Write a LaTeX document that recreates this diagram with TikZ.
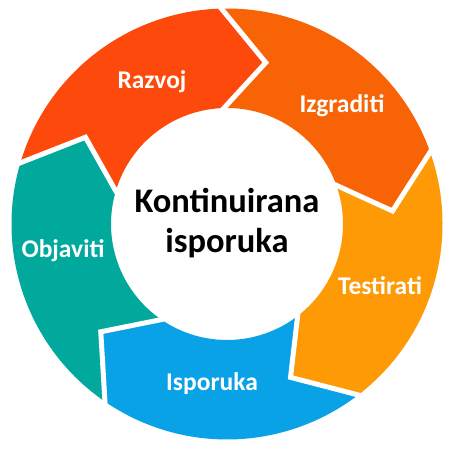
\documentclass[tikz,border=0pt]{standalone}
\usepackage{fontspec}
\setmainfont{Carlito}
\definecolor{cRaz}{HTML}{FD4A0C}
\definecolor{cIzg}{HTML}{F86305}
\definecolor{cTes}{HTML}{FD9A05}
\definecolor{cIsp}{HTML}{0AA2E6}
\definecolor{cObj}{HTML}{00A99B}
\tikzset{
  lbl/.style={text=white, font=\fontsize{25.5}{30}\selectfont\bfseries, anchor=base, inner sep=0pt},
  ctr/.style={text=black, font=\fontsize{34.5}{42}\selectfont\bfseries, anchor=base, inner sep=0pt},
  gap/.style={draw=white, line width=5pt, line join=miter, miter limit=10, line cap=rect},
}
\newcommand{\segm}[2]{% #1 tail angle, #2 colour
  \pgfmathsetmacro{\sgA}{#1}
  \pgfmathsetmacro{\sgB}{#1-72}
  \pgfmathsetmacro{\sgN}{#1-15}
  \pgfmathsetmacro{\sgH}{#1-87}
  \fill[#2] (\sgA:215.5) arc[start angle=\sgA, end angle=\sgB, radius=215.5]
     -- (\sgH:166) -- (\sgB:116) arc[start angle=\sgB, end angle=\sgA, radius=116]
     -- (\sgN:166) -- cycle;
}
\newcommand{\gapline}[1]{%
  \pgfmathsetmacro{\gpA}{#1}
  \pgfmathsetmacro{\gpN}{#1-15}
  \draw[gap] (\gpA:215.5) -- (\gpN:166) -- (\gpA:116);
}
\begin{document}
\begin{tikzpicture}[x=1pt,y=1pt]
\useasboundingbox (0,0) rectangle (455,449);
\fill[white] (0,0) rectangle (455,449);
\begin{scope}[shift={(227,225)}, x=1pt, y=1pt]
  \segm{163.5}{cRaz}
  \segm{91.5}{cIzg}
  \segm{19.5}{cTes}
  \segm{-52.5}{cIsp}
  \segm{-124.5}{cObj}
  \gapline{163.5}
  \gapline{91.5}
  \gapline{19.5}
  \gapline{-52.5}
  \gapline{-124.5}
\end{scope}
\node[lbl] (raz) at (152,360) {Razvoj};
\node[lbl] (izg) at (342,336) {Izgraditi};
\node[lbl] (tes) at (380,154) {Testirati};
\node[lbl] (isp) at (212,58) {Isporuka};
\node[lbl] (obj) at (63,191) {Objaviti};
\node[ctr] (k1) at (227,236) {Kontinuirana};
\node[ctr] (k2) at (227,196) {isporuka};
\end{tikzpicture}
\end{document}
